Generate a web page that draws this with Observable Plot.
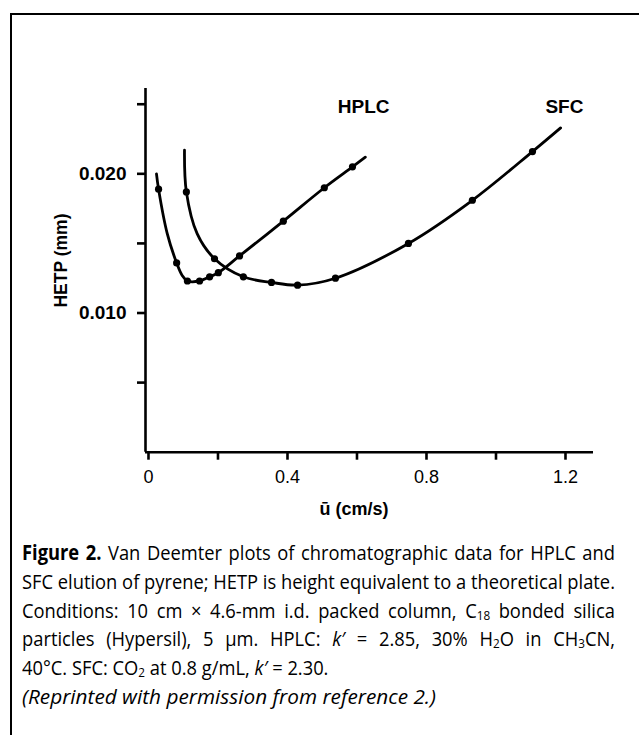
<!DOCTYPE html>
<html>
<head>
<meta charset="utf-8">
<script src="https://cdn.jsdelivr.net/npm/d3@7"></script>
<script src="https://cdn.jsdelivr.net/npm/@observablehq/plot@0.6"></script>
<style>
  html, body { margin: 0; padding: 0; background: #fff; }
  #wrap { position: relative; width: 639px; height: 735px; overflow: hidden; background: #fff; }
  #frame { position: absolute; left: 10px; top: 13px; width: 700px; height: 800px;
           border-left: 2px solid #000; border-top: 2px solid #000; }
  #chart { position: absolute; left: 0; top: 0; }
  #caption { position: absolute; left: 22px; top: 538px; width: 593px;
             font-family: "Open Sans", "Liberation Sans", sans-serif;
             font-size: 20.8px; line-height: 28.8px; color: #000; }
  #caption .line { height: 28.8px; white-space: nowrap; }
  #caption .line > span { display: inline-block; white-space: nowrap; transform-origin: 0 50%; }
  #caption sub { font-size: 0.64em; vertical-align: -0.16em; line-height: 0; }
</style>
</head>
<body>
<div id="wrap">
  <div id="frame"></div>
  <div id="chart"></div>
  <div id="caption">
    <div class="line j"><span><b>Figure 2.</b> Van Deemter plots of chromatographic data for HPLC and</span></div>
    <div class="line j"><span>SFC elution of pyrene; HETP is height equivalent to a theoretical plate.</span></div>
    <div class="line j"><span>Conditions: 10 cm × 4.6-mm i.d. packed column, C<sub>18</sub> bonded silica</span></div>
    <div class="line j"><span>particles (Hypersil), 5 µm. HPLC: <i>k′</i> = 2.85, 30% H<sub>2</sub>O in CH<sub>3</sub>CN,</span></div>
    <div class="line l"><span>40°C. SFC: CO<sub>2</sub> at 0.8 g/mL, <i>k′</i> = 2.30.</span></div>
    <div class="line l" data-w="414"><span><i>(Reprinted with permission from reference 2.)</i></span></div>
  </div>
</div>
<script>
// ---- Data ----
// measured points (u in cm/s, HETP in mm)
const hplcU = [0.029, 0.081, 0.112, 0.147, 0.176, 0.201, 0.262, 0.388, 0.506, 0.587];
const hplcH = [0.0189, 0.0136, 0.0123, 0.0123, 0.0126, 0.0129, 0.0141, 0.0166, 0.0190, 0.0205];
const sfcU  = [0.109, 0.190, 0.273, 0.354, 0.429, 0.538, 0.748, 0.932, 1.105];
const sfcH  = [0.0187, 0.0139, 0.0126, 0.0122, 0.0120, 0.0125, 0.0150, 0.0181, 0.0216];
// drawn fitted curves
const hplcCurveU = [0.023, 0.029, 0.054, 0.081, 0.097, 0.112, 0.147, 0.176, 0.201, 0.262, 0.388, 0.506, 0.587, 0.624];
const hplcCurveH = [0.0200, 0.0189, 0.0157, 0.0136, 0.0127, 0.0123, 0.0123, 0.0126, 0.0129, 0.0141, 0.0166, 0.0190, 0.0205, 0.0212];
const sfcCurveU = [0.1036, 0.109, 0.140, 0.190, 0.273, 0.354, 0.429, 0.538, 0.748, 0.932, 1.105, 1.186];
const sfcCurveH = [0.0217, 0.0187, 0.0157, 0.0139, 0.0126, 0.0122, 0.0120, 0.0125, 0.0150, 0.0181, 0.0216, 0.0233];
// series labels
const seriesNames = ["HPLC", "SFC"];
const seriesLabelU = [0.619, 1.197];
const seriesLabelH = [0.02478, 0.02478];
// ticks
const xTicks = [0, 0.2, 0.4, 0.6, 0.8, 1.0, 1.2];
const xTickLabels = ["0", "", "0.4", "", "0.8", "", "1.2"];
const yTicks = [0.005, 0.010, 0.015, 0.020, 0.025];
const yTickLabels = ["", "0.010", "", "0.020", ""];
const xTitle = "ū (cm/s)";
const yTitle = "HETP (mm)";

// ---- build tables ----
const zip = (us, hs, extra = {}) => us.map((u, i) => ({u, h: hs[i], ...extra}));
const pts = [...zip(hplcU, hplcH, {s: "HPLC"}), ...zip(sfcU, sfcH, {s: "SFC"})];
const curves = [...zip(hplcCurveU, hplcCurveH, {s: "HPLC"}), ...zip(sfcCurveU, sfcCurveH, {s: "SFC"})];
const labels = seriesNames.map((n, i) => ({n, u: seriesLabelU[i], h: seriesLabelH[i]}));

const xMin = -0.0086, xMax = 1.2806, yMax = 0.02613;
const font = "'Liberation Sans', Arial, sans-serif";

const chart = Plot.plot({
  width: 639,
  height: 530,
  marginLeft: 145,
  marginRight: 46,
  marginTop: 88,
  marginBottom: 78.3,
  style: {fontFamily: font, fontSize: "18px", color: "#000", background: "transparent", overflow: "visible"},
  x: {domain: [xMin, xMax]},
  y: {domain: [0, yMax]},
  marks: [
    Plot.ruleX([xMin], {y1: 0, y2: yMax, stroke: "#000", strokeWidth: 2.6}),
    Plot.ruleY([0], {x1: xMin, x2: xMax, stroke: "#000", strokeWidth: 2.6}),
    Plot.axisX({ticks: xTicks, tickSize: 8, tickPadding: 10, strokeWidth: 2.6, stroke: "#000",
      tickFormat: d => xTickLabels[xTicks.indexOf(d)], fontSize: 18, label: null}),
    Plot.axisY({ticks: yTicks, tickSize: 8, tickPadding: 11, strokeWidth: 2.6, stroke: "#000",
      tickFormat: d => yTickLabels[yTicks.indexOf(d)], fontSize: 19, fontWeight: "bold", label: null}),
    Plot.line(curves, {x: "u", y: "h", z: "s", curve: "catmull-rom", stroke: "#000", strokeWidth: 2.8}),
    Plot.dot(pts, {x: "u", y: "h", r: 3.6, fill: "#000", stroke: "none"}),
    Plot.text(labels, {x: "u", y: "h", text: "n", fontWeight: "bold", fontSize: 19, fill: "#000"}),
    Plot.text([xTitle], {x: [0.5915], y: [-0.00412], text: d => d, fontWeight: "bold", fontSize: 18, fill: "#000"}),
    Plot.text([yTitle], {x: [-0.250], y: [0.01377], text: d => d, rotate: -90, fontWeight: "bold", fontSize: 17.5, fill: "#000"})
  ]
});
document.getElementById("chart").appendChild(chart);

// ---- fit caption lines: uniform horizontal condensing, then justify ----
function fitCaption() {
  const W = 593;
  const lines = [...document.querySelectorAll("#caption .line")];
  lines.forEach(l => { const s = l.firstElementChild; s.style.transform = ""; s.style.wordSpacing = ""; });
  const just = lines.filter(l => l.classList.contains("j"));
  const s0 = Math.min(...just.map(l => W / l.firstElementChild.getBoundingClientRect().width));
  just.forEach(l => {
    const sp = l.firstElementChild;
    const w = sp.getBoundingClientRect().width;
    const n = (sp.textContent.match(/ /g) || []).length;
    sp.style.wordSpacing = ((W / s0 - w) / n).toFixed(3) + "px";
  });
  lines.forEach(l => { l.firstElementChild.style.transform = `scaleX(${s0.toFixed(4)})`; });
  lines.filter(l => l.dataset.w).forEach(l => {
    const sp = l.firstElementChild;
    sp.style.transform = "";
    const w = sp.getBoundingClientRect().width;
    sp.style.transform = `scaleX(${(+l.dataset.w / w).toFixed(4)})`;
  });
}
fitCaption();
if (document.fonts && document.fonts.ready) document.fonts.ready.then(fitCaption);
</script>
</body>
</html>
